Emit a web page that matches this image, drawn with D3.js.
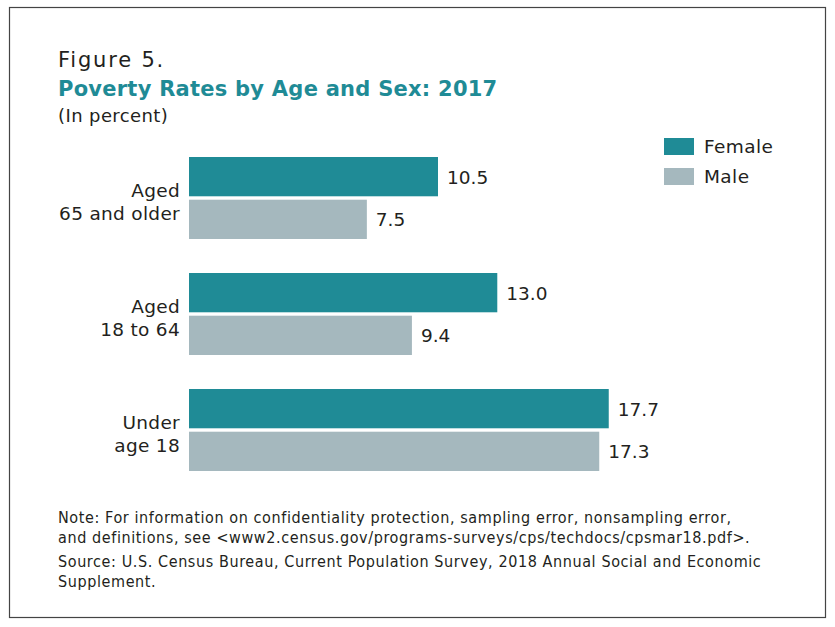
<!DOCTYPE html>
<html>
<head>
<meta charset="utf-8">
<script src="https://cdn.jsdelivr.net/npm/d3@7"></script>
<style>
  body { margin: 0; background: #fff; }
  text { font-family: "DejaVu Sans", "Open Sans", sans-serif; fill: #231f20; }
</style>
</head>
<body>
<div id="chart"></div>
<script>
// data
const groups = ["Aged 65 and older", "Aged 18 to 64", "Under age 18"];
const groupLines = [["Aged", "65 and older"], ["Aged", "18 to 64"], ["Under", "age 18"]];
const series = ["Female", "Male"];
const femaleValues = [10.5, 13.0, 17.7];
const maleValues = [7.5, 9.4, 17.3];
const colors = ["#1f8b96", "#a5b8be"];
const notes = [
  "Note: For information on confidentiality protection, sampling error, nonsampling error,",
  "and definitions, see <www2.census.gov/programs-surveys/cps/techdocs/cpsmar18.pdf>.",
  "Source: U.S. Census Bureau, Current Population Survey, 2018 Annual Social and Economic",
  "Supplement."
];

const width = 835, height = 627;
const svg = d3.select("#chart").append("svg")
  .attr("width", width).attr("height", height);

// frame
svg.append("rect").attr("x", 9.5).attr("y", 7.5).attr("width", 816).attr("height", 610)
  .attr("fill", "none").attr("stroke", "#444").attr("stroke-width", 1.2);

// headings
svg.append("text").attr("x", 58).attr("y", 67).attr("font-size", 21)
  .style("letter-spacing", "1.8px").text("Figure 5.");
svg.append("text").attr("x", 58).attr("y", 96).attr("font-size", 21).attr("font-weight", "bold")
  .style("letter-spacing", "0.25px")
  .style("fill", "#1f8b96").text("Poverty Rates by Age and Sex: 2017");
svg.append("text").attr("x", 58).attr("y", 122).attr("font-size", 18)
  .style("letter-spacing", "0.4px").text("(In percent)");

// scales
const x = d3.scaleLinear().domain([0, 10.5]).range([189, 438]);
const y0 = d3.scaleBand().domain(groups).range([157, 505]).paddingInner(0).paddingOuter(0);
const y1 = d3.scaleBand().domain(series).range([0, 82]).paddingInner(0.08);

const rows = groups.map((g, i) => ({ g, lines: groupLines[i], vals: [femaleValues[i], maleValues[i]] }));

const grp = svg.selectAll("g.grp").data(rows).enter().append("g")
  .attr("transform", d => `translate(0,${y0(d.g)})`);

grp.selectAll("rect").data(d => d.vals.map((v, j) => ({ v, s: series[j], c: colors[j] })))
  .enter().append("rect")
  .attr("x", x(0)).attr("y", d => y1(d.s))
  .attr("width", d => x(d.v) - x(0)).attr("height", y1.bandwidth())
  .attr("fill", d => d.c);

grp.selectAll("text.val").data(d => d.vals.map((v, j) => ({ v, s: series[j] })))
  .enter().append("text").attr("class", "val")
  .attr("x", d => x(d.v) + 9).attr("y", d => y1(d.s) + y1.bandwidth() / 2 + 7)
  .attr("font-size", 18.5).text(d => d3.format(".1f")(d.v));

grp.selectAll("text.cat").data(d => d.lines).enter().append("text").attr("class", "cat")
  .attr("x", 180).attr("y", (d, i) => 40 + i * 23)
  .attr("text-anchor", "end").attr("font-size", 18.5).style("letter-spacing", "0.3px").text(d => d);

// legend
const leg = svg.selectAll("g.leg").data(series).enter().append("g")
  .attr("transform", (d, i) => `translate(664,${138 + i * 30})`);
leg.append("rect").attr("width", 30).attr("height", 17).attr("fill", (d, i) => colors[i]);
leg.append("text").attr("x", 40).attr("y", 15).attr("font-size", 18.5).style("letter-spacing", "0.4px").text(d => d);

// notes
svg.selectAll("text.note").data(notes).enter().append("text").attr("class", "note")
  .attr("x", 58).attr("y", (d, i) => 523 + i * 20 + (i >= 2 ? 4 : 0))
  .attr("font-size", 16).style("letter-spacing", "0.6px")
  .style("font-family", "'DejaVu Sans Condensed', 'DejaVu Sans', sans-serif")
  .text(d => d);
</script>
</body>
</html>
